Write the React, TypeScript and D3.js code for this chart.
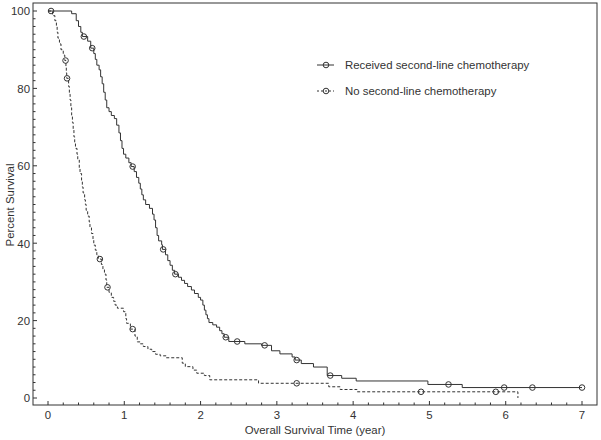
import React from "react";
import * as d3 from "d3";

// Kaplan–Meier step data (time in years, percent survival after the step)
const receivedTimes = [0, 0.31, 0.37, 0.4, 0.43, 0.45, 0.52, 0.56, 0.6, 0.62, 0.64, 0.67, 0.69, 0.71, 0.73, 0.75, 0.77, 0.8, 0.83, 0.87, 0.9, 0.93, 0.95, 0.97, 0.99, 1.02, 1.06, 1.09, 1.13, 1.16, 1.19, 1.21, 1.23, 1.25, 1.28, 1.33, 1.37, 1.39, 1.41, 1.43, 1.45, 1.49, 1.5, 1.54, 1.57, 1.6, 1.63, 1.66, 1.71, 1.75, 1.79, 1.83, 1.88, 1.92, 1.97, 2.0, 2.03, 2.05, 2.07, 2.09, 2.11, 2.16, 2.21, 2.25, 2.28, 2.31, 2.37, 2.58, 2.8, 2.93, 3.04, 3.2, 3.24, 3.32, 3.48, 3.66, 3.85, 4.04, 4.98, 5.43, 7.0];
const receivedSurv = [100, 99.3, 97.5, 96.0, 94.5, 93.4, 92.2, 90.4, 89.0, 87.5, 86.0, 84.8, 83.0, 81.2, 79.0, 77.0, 75.0, 74.0, 73.0, 72.2, 70.5, 68.5, 66.5, 64.5, 63.0, 62.0, 60.8, 59.8, 58.5, 57.0, 55.5, 54.0, 52.5, 51.2, 50.0, 49.0, 47.5, 46.0, 44.0, 42.0, 40.6, 39.6, 38.4, 37.0, 35.5, 34.3, 33.0, 32.0, 31.2, 30.4, 29.6, 28.8, 27.9, 27.0, 26.0, 25.3, 24.0, 22.7, 21.5, 20.5, 19.5, 18.9, 18.3, 17.4, 16.6, 15.7, 14.6, 14.0, 13.6, 12.2, 11.4, 10.6, 9.8, 8.9, 8.0, 5.8, 5.1, 4.4, 3.5, 2.7, 2.7];
const receivedCensored = [0.04, 0.47, 0.58, 1.11, 1.51, 1.67, 2.33, 2.48, 2.84, 3.26, 3.7, 5.25, 5.98, 6.35, 7.0];

const noTimes = [0, 0.06, 0.09, 0.11, 0.12, 0.13, 0.15, 0.17, 0.2, 0.22, 0.235, 0.24, 0.245, 0.27, 0.28, 0.29, 0.3, 0.31, 0.32, 0.33, 0.34, 0.35, 0.36, 0.38, 0.39, 0.41, 0.42, 0.44, 0.45, 0.46, 0.48, 0.49, 0.5, 0.52, 0.54, 0.55, 0.57, 0.59, 0.6, 0.62, 0.64, 0.66, 0.7, 0.72, 0.74, 0.76, 0.77, 0.8, 0.83, 0.86, 0.88, 0.91, 0.99, 1.02, 1.03, 1.08, 1.14, 1.17, 1.21, 1.25, 1.31, 1.36, 1.41, 1.47, 1.55, 1.76, 1.8, 1.9, 1.95, 2.05, 2.12, 2.76, 3.68, 3.83, 4.05, 6.16];
const noSurv = [100, 98.8, 97.5, 96.0, 94.5, 93.0, 91.5, 90.0, 88.6, 87.2, 85.5, 84.0, 82.6, 80.5, 78.5, 77.0, 75.0, 73.0, 71.2, 69.5, 67.5, 66.0, 64.5, 63.0, 61.5, 59.5, 58.0, 56.0, 54.5, 53.0, 51.2, 50.0, 48.5, 47.0, 45.5, 44.0, 42.5, 41.0, 39.5, 38.2, 37.0, 35.9, 34.5, 33.2, 32.0, 30.5, 28.6, 27.3, 26.0, 25.0, 24.0, 23.2, 22.3, 20.5, 19.3, 17.8, 16.0, 14.5, 14.0, 13.3, 12.6, 12.0, 11.3, 10.9, 10.4, 9.0, 8.1, 7.2, 6.4, 5.8, 4.7, 3.8, 2.9, 2.2, 1.6, 0];
const noCensored = [0.23, 0.25, 0.68, 0.78, 1.11, 3.26, 4.89, 5.87];

const xTicks = [0, 1, 2, 3, 4, 5, 6, 7];
const yTicks = [0, 20, 40, 60, 80, 100];
const seriesNames = ["Received second-line chemotherapy", "No second-line chemotherapy"];

const W = 601;
const H = 440;
const FONT = "'Liberation Sans', Arial, Helvetica, sans-serif";
const INK = "#333";
const FS = 11.4;

function survAt(times: number[], surv: number[], t: number) {
  let s = surv[0];
  for (let i = 0; i < times.length; i++) {
    if (times[i] <= t) s = surv[i];
    else break;
  }
  return s;
}

export default function App() {
  const x = d3.scaleLinear().domain([0, 7]).range([48, 582]);
  const y = d3.scaleLinear().domain([0, 100]).range([398, 11]);
  const left = 33, right = 597, top = 3, bottom = 405;

  const line = d3
    .line<[number, number]>()
    .x((d) => x(d[0]))
    .y((d) => y(d[1]))
    .curve(d3.curveStepAfter);

  const recPts: [number, number][] = receivedTimes.map((t, i) => [t, receivedSurv[i]]);
  const noPts: [number, number][] = noTimes.map((t, i) => [t, noSurv[i]]);

  const xMinor = d3.range(0, 7.001, 0.2).filter((v) => Math.abs(v - Math.round(v)) > 1e-6);
  const yMinor = d3.range(0, 100.001, 2).filter((v) => v % 20 !== 0);

  const r = 2.8;
  const dash = "3,2";

  return (
    <svg width={W} height={H} style={{ position: "absolute", left: 0, top: 0, background: "#fff" }} fontFamily={FONT}>
      <rect x={0} y={0} width={W} height={H} fill="#fff" />
      {/* frame */}
      <rect x={left} y={top} width={right - left} height={bottom - top} fill="none" stroke={INK} strokeWidth={1} />

      {/* y ticks */}
      {yTicks.map((v) => (
        <g key={"yt" + v}>
          <line x1={left} x2={left + 4} y1={y(v)} y2={y(v)} stroke={INK} />
          <text x={left - 3} y={y(v) + 4.3} textAnchor="end" fontSize={FS} fill={INK}>{v}</text>
        </g>
      ))}
      {yMinor.map((v) => (
        <line key={"ym" + v} x1={left} x2={left + 2.5} y1={y(v)} y2={y(v)} stroke={INK} />
      ))}

      {/* x ticks */}
      {xTicks.map((v) => (
        <g key={"xt" + v}>
          <line x1={x(v)} x2={x(v)} y1={bottom} y2={bottom - 4} stroke={INK} />
          <text x={x(v)} y={bottom + 14} textAnchor="middle" fontSize={FS} fill={INK}>{v}</text>
        </g>
      ))}
      {xMinor.map((v) => (
        <line key={"xm" + v} x1={x(v)} x2={x(v)} y1={bottom} y2={bottom - 2.5} stroke={INK} />
      ))}

      {/* axis titles */}
      <text x={315} y={434} textAnchor="middle" fontSize={FS} fill={INK}>Overall Survival Time (year)</text>
      <text transform={`translate(14,205) rotate(-90)`} textAnchor="middle" fontSize={FS} fill={INK}>Percent Survival</text>

      {/* curves */}
      <path d={line(recPts) || ""} fill="none" stroke={INK} strokeWidth={1} />
      <path d={line(noPts) || ""} fill="none" stroke={INK} strokeWidth={1} strokeDasharray={dash} />

      {receivedCensored.map((t, i) => (
        <circle key={"rc" + i} cx={x(t)} cy={y(survAt(receivedTimes, receivedSurv, t))} r={r} fill="none" stroke={INK} strokeWidth={1} />
      ))}
      {noCensored.map((t, i) => (
        <circle key={"nc" + i} cx={x(t)} cy={y(survAt(noTimes, noSurv, t))} r={r} fill="none" stroke={INK} strokeWidth={1} />
      ))}

      {/* legend */}
      <g>
        <line x1={317} x2={334} y1={65} y2={65} stroke={INK} />
        <circle cx={326} cy={65} r={r} fill="none" stroke={INK} />
        <text x={345} y={69} fontSize={FS} fill={INK}>{seriesNames[0]}</text>
        <line x1={317} x2={334} y1={91} y2={91} stroke={INK} strokeDasharray="2,2" />
        <circle cx={326} cy={91} r={r} fill="none" stroke={INK} />
        <text x={345} y={95} fontSize={FS} fill={INK}>{seriesNames[1]}</text>
      </g>
    </svg>
  );
}
